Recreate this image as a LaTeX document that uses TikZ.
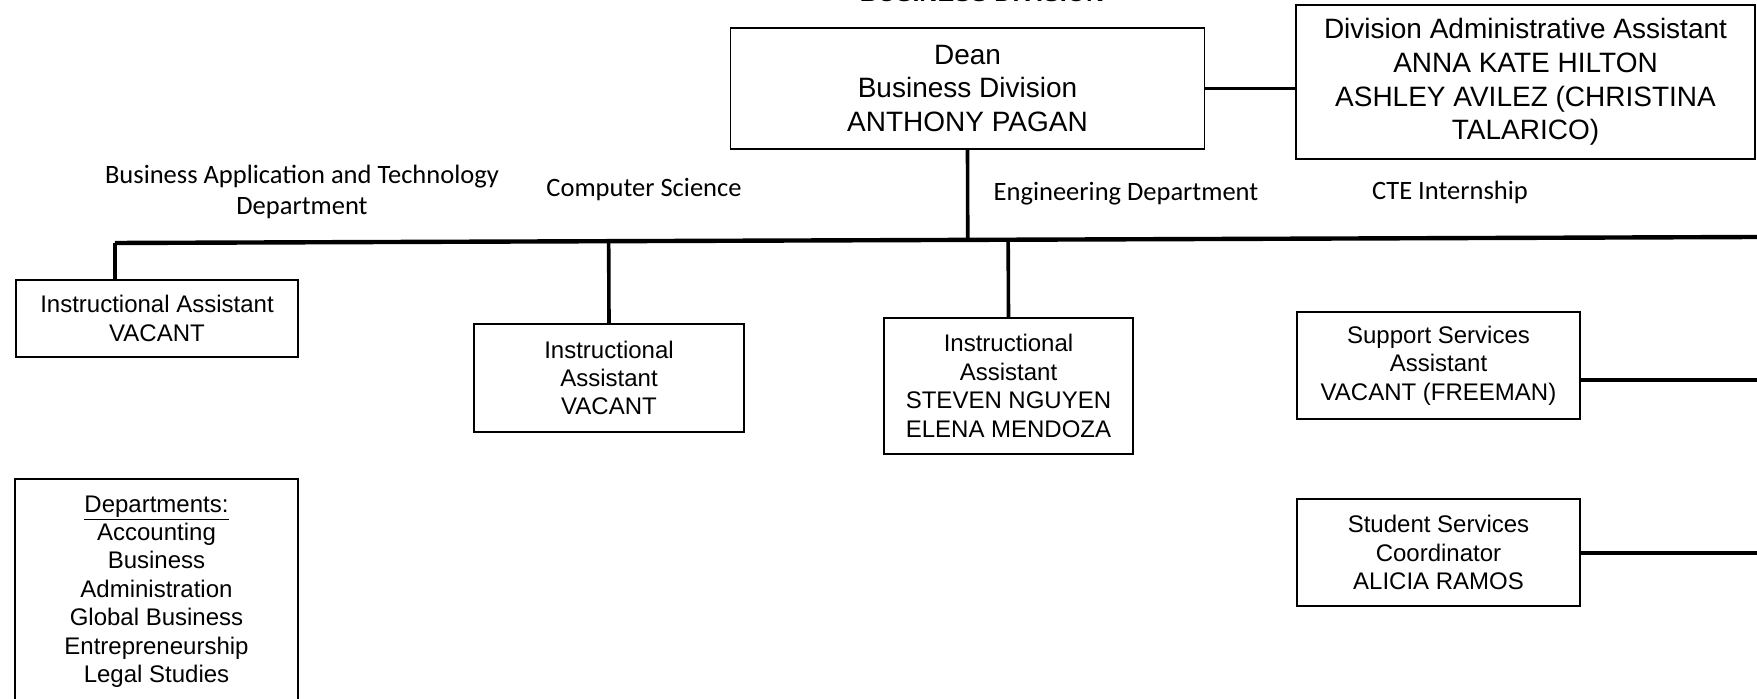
\documentclass[tikz,border=0pt]{standalone}
\usepackage{fontspec}
\setmainfont{Liberation Sans}
\newfontfamily\calfont{Carlito}
\usetikzlibrary{calc}
\begin{document}
\begin{tikzpicture}[x=0.5pt,y=-0.5pt,
  box/.style={draw, line width=0.8pt, align=center, inner sep=0pt},
  big/.style={font=\fontsize{14}{16.8}\selectfont},
  small/.style={font=\fontsize{12}{14.2}\selectfont},
  lab/.style={font=\calfont\fontsize{13.25}{15.5}\selectfont, align=center, inner sep=0pt},
  conn/.style={line width=1.8pt},
  barline/.style={line width=2.2pt}]
\useasboundingbox (0,0) rectangle (1757,699);
\node[font=\bfseries\fontsize{12.5}{15}\selectfont, anchor=base, inner sep=0pt] (title) at (982,2) {BUSINESS DIVISION};
\node[box,big,minimum width=237pt,minimum height=60.5pt] (dean) at (967.5,88.5) {\rule{0pt}{1.5pt}Dean\\Business Division\\ANTHONY PAGAN};
\node[box,big,minimum width=229.5pt,minimum height=77pt] (admin) at (1525.5,82) {\rule{0pt}{3pt}Division Administrative Assistant\\ANNA KATE HILTON\\ASHLEY AVILEZ (CHRISTINA\\TALARICO)};
\node[lab] (lab1) at (302,192) {Business Application and Technology\\Department};
\node[lab] (lab2) at (644,189.5) {Computer Science};
\node[lab] (lab3) at (1126,193.5) {Engineering Department};
\node[lab] (lab4) at (1450,192.5) {CTE Internship};
\coordinate (barL) at (115,243);
\coordinate (barR) at (1757,237);
\draw[barline] (barL) -- (barR);
\draw[conn] (dean.south) -- ($(barL)!(dean.south)!(barR)$);
\draw[conn] (dean.east) -- (dean.east -| admin.west);
\node[box,small,minimum width=141pt,minimum height=38.5pt] (ia1) at (157,318.5) {Instructional Assistant\\VACANT};
\draw[conn] (barL) -- (barL |- ia1.north);
\node[box,small,minimum width=135pt,minimum height=54pt] (ia2) at (609,378) {Instructional\\Assistant\\VACANT};
\draw[conn] (ia2.north) -- ($(barL)!(ia2.north)!(barR)$);
\node[box,small,minimum width=124.5pt,minimum height=68pt] (ia3) at (1008.5,386) {Instructional\\Assistant\\STEVEN NGUYEN\\ELENA MENDOZA};
\draw[conn] (ia3.north) -- ($(barL)!(ia3.north)!(barR)$);
\node[box,small,minimum width=141.5pt,minimum height=53.5pt] (sup) at (1438.5,365.5) {Support Services\\Assistant\\VACANT (FREEMAN)};
\coordinate (supEnd) at (1757,380);
\draw[conn] (supEnd -| sup.east) -- (supEnd);
\node[box,small,minimum width=141.5pt,minimum height=53.5pt] (stu) at (1438.5,552.5) {Student Services\\Coordinator\\ALICIA RAMOS};
\coordinate (stuEnd) at (1757,553);
\draw[conn] (stuEnd -| stu.east) -- (stuEnd);
\node[box,small,minimum width=141.5pt,minimum height=112.5pt] (dept) at (156.5,591.5) {\underline{Departments:}\\Accounting\\Business\\Administration\\Global Business\\Entrepreneurship\\Legal Studies};
\end{tikzpicture}
\end{document}
